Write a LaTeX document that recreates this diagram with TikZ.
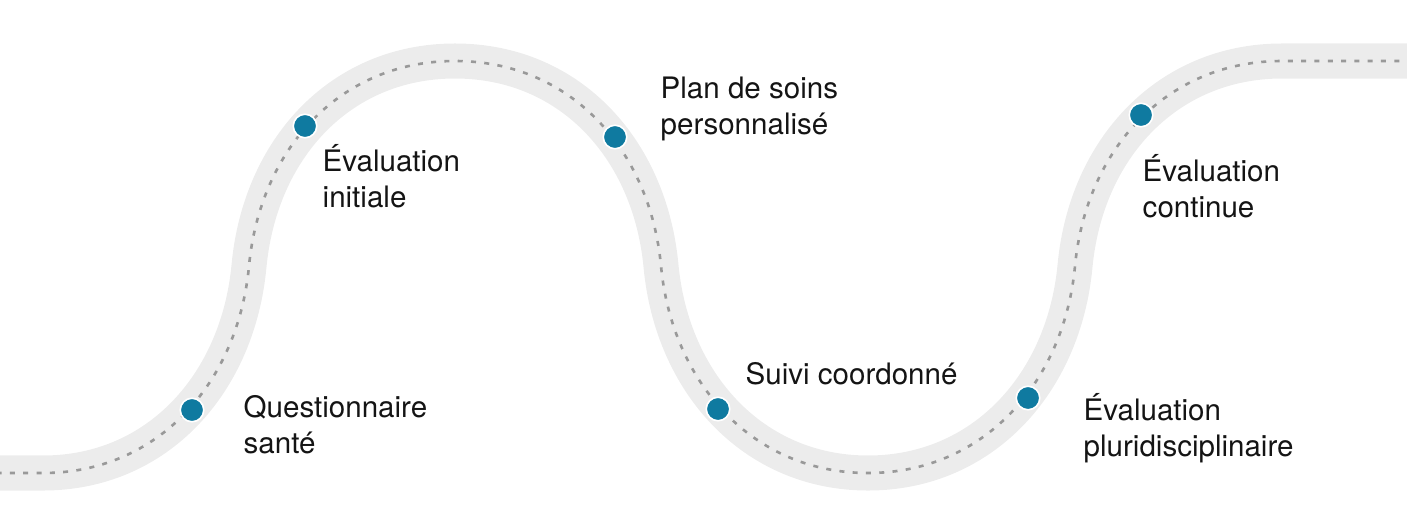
\documentclass[tikz,border=0pt]{standalone}
\usepackage{fontspec}
\setmainfont{TeX Gyre Heros}
\definecolor{roadgray}{HTML}{ECECEC}
\definecolor{dashgray}{HTML}{999999}
\definecolor{dotblue}{HTML}{0F7AA0}
\definecolor{inkblack}{HTML}{141414}
\begin{document}
\begin{tikzpicture}[x=0.01cm,y=-0.01cm]
	% styles
	\tikzstyle{road}=[draw=roadgray,line width=0.35cm]
	\tikzstyle{centreline}=[draw=dashgray,line width=0.026cm,dash pattern=on 0.05cm off 0.083cm]
	\tikzstyle{milestone}=[circle,fill=dotblue,draw=white,line width=0.016cm,minimum size=0.235cm,inner sep=0pt]
	\tikzstyle{lbl}=[anchor=base west,align=left,inner sep=0pt,text=inkblack,font=\fontsize{8.4}{10}\selectfont]
	
	% bounding box
	\useasboundingbox (0,0) rectangle (1407,512);
	
	% bends of the road
	\coordinate (start) at (-30,473);
	\coordinate (low1) at (43,473);
	\coordinate (turn1) at (249,266);
	\coordinate (high1) at (455,61);
	\coordinate (turn2) at (661,266);
	\coordinate (low2) at (868,473);
	\coordinate (turn3) at (1075,266);
	\coordinate (high2) at (1282,61);
	\coordinate (end) at (1440,61);
	
	% road with dashed middle line
	\path[road,postaction={centreline}] (start) -- (low1)
	.. controls +(115,0) and +(-11,117) .. (turn1)
	.. controls +(11,-117) and +(-115,0) .. (high1)
	.. controls +(115,0) and +(-11,-117) .. (turn2)
	.. controls +(11,117) and +(-115,0) .. (low2)
	.. controls +(115,0) and +(-11,117) .. (turn3)
	.. controls +(11,-117) and +(-115,0) .. (high2)
	-- (end);
	
	% milestones
	\foreach \n/\x/\y in {quest/192/410,init/305/126,plan/615/137,suivi/718/409,pluri/1028/398,cont/1141/115}
	{
		\node[milestone] (\n) at (\x,\y) {};
	}
	
	% labels (base = last line)
	\node[lbl] (lquest) at (243,453) {Questionnaire\\santé};
	\node[lbl] (linit) at (322,207) {Évaluation\\initiale};
	\node[lbl] (lplan) at (660,134) {Plan de soins\\personnalisé};
	\node[lbl] (lsuivi) at (745,384) {Suivi coordonné};
	\node[lbl] (lpluri) at (1083,456) {Évaluation\\pluridisciplinaire};
	\node[lbl] (lcont) at (1142,217) {Évaluation\\continue};
\end{tikzpicture}
\end{document}
